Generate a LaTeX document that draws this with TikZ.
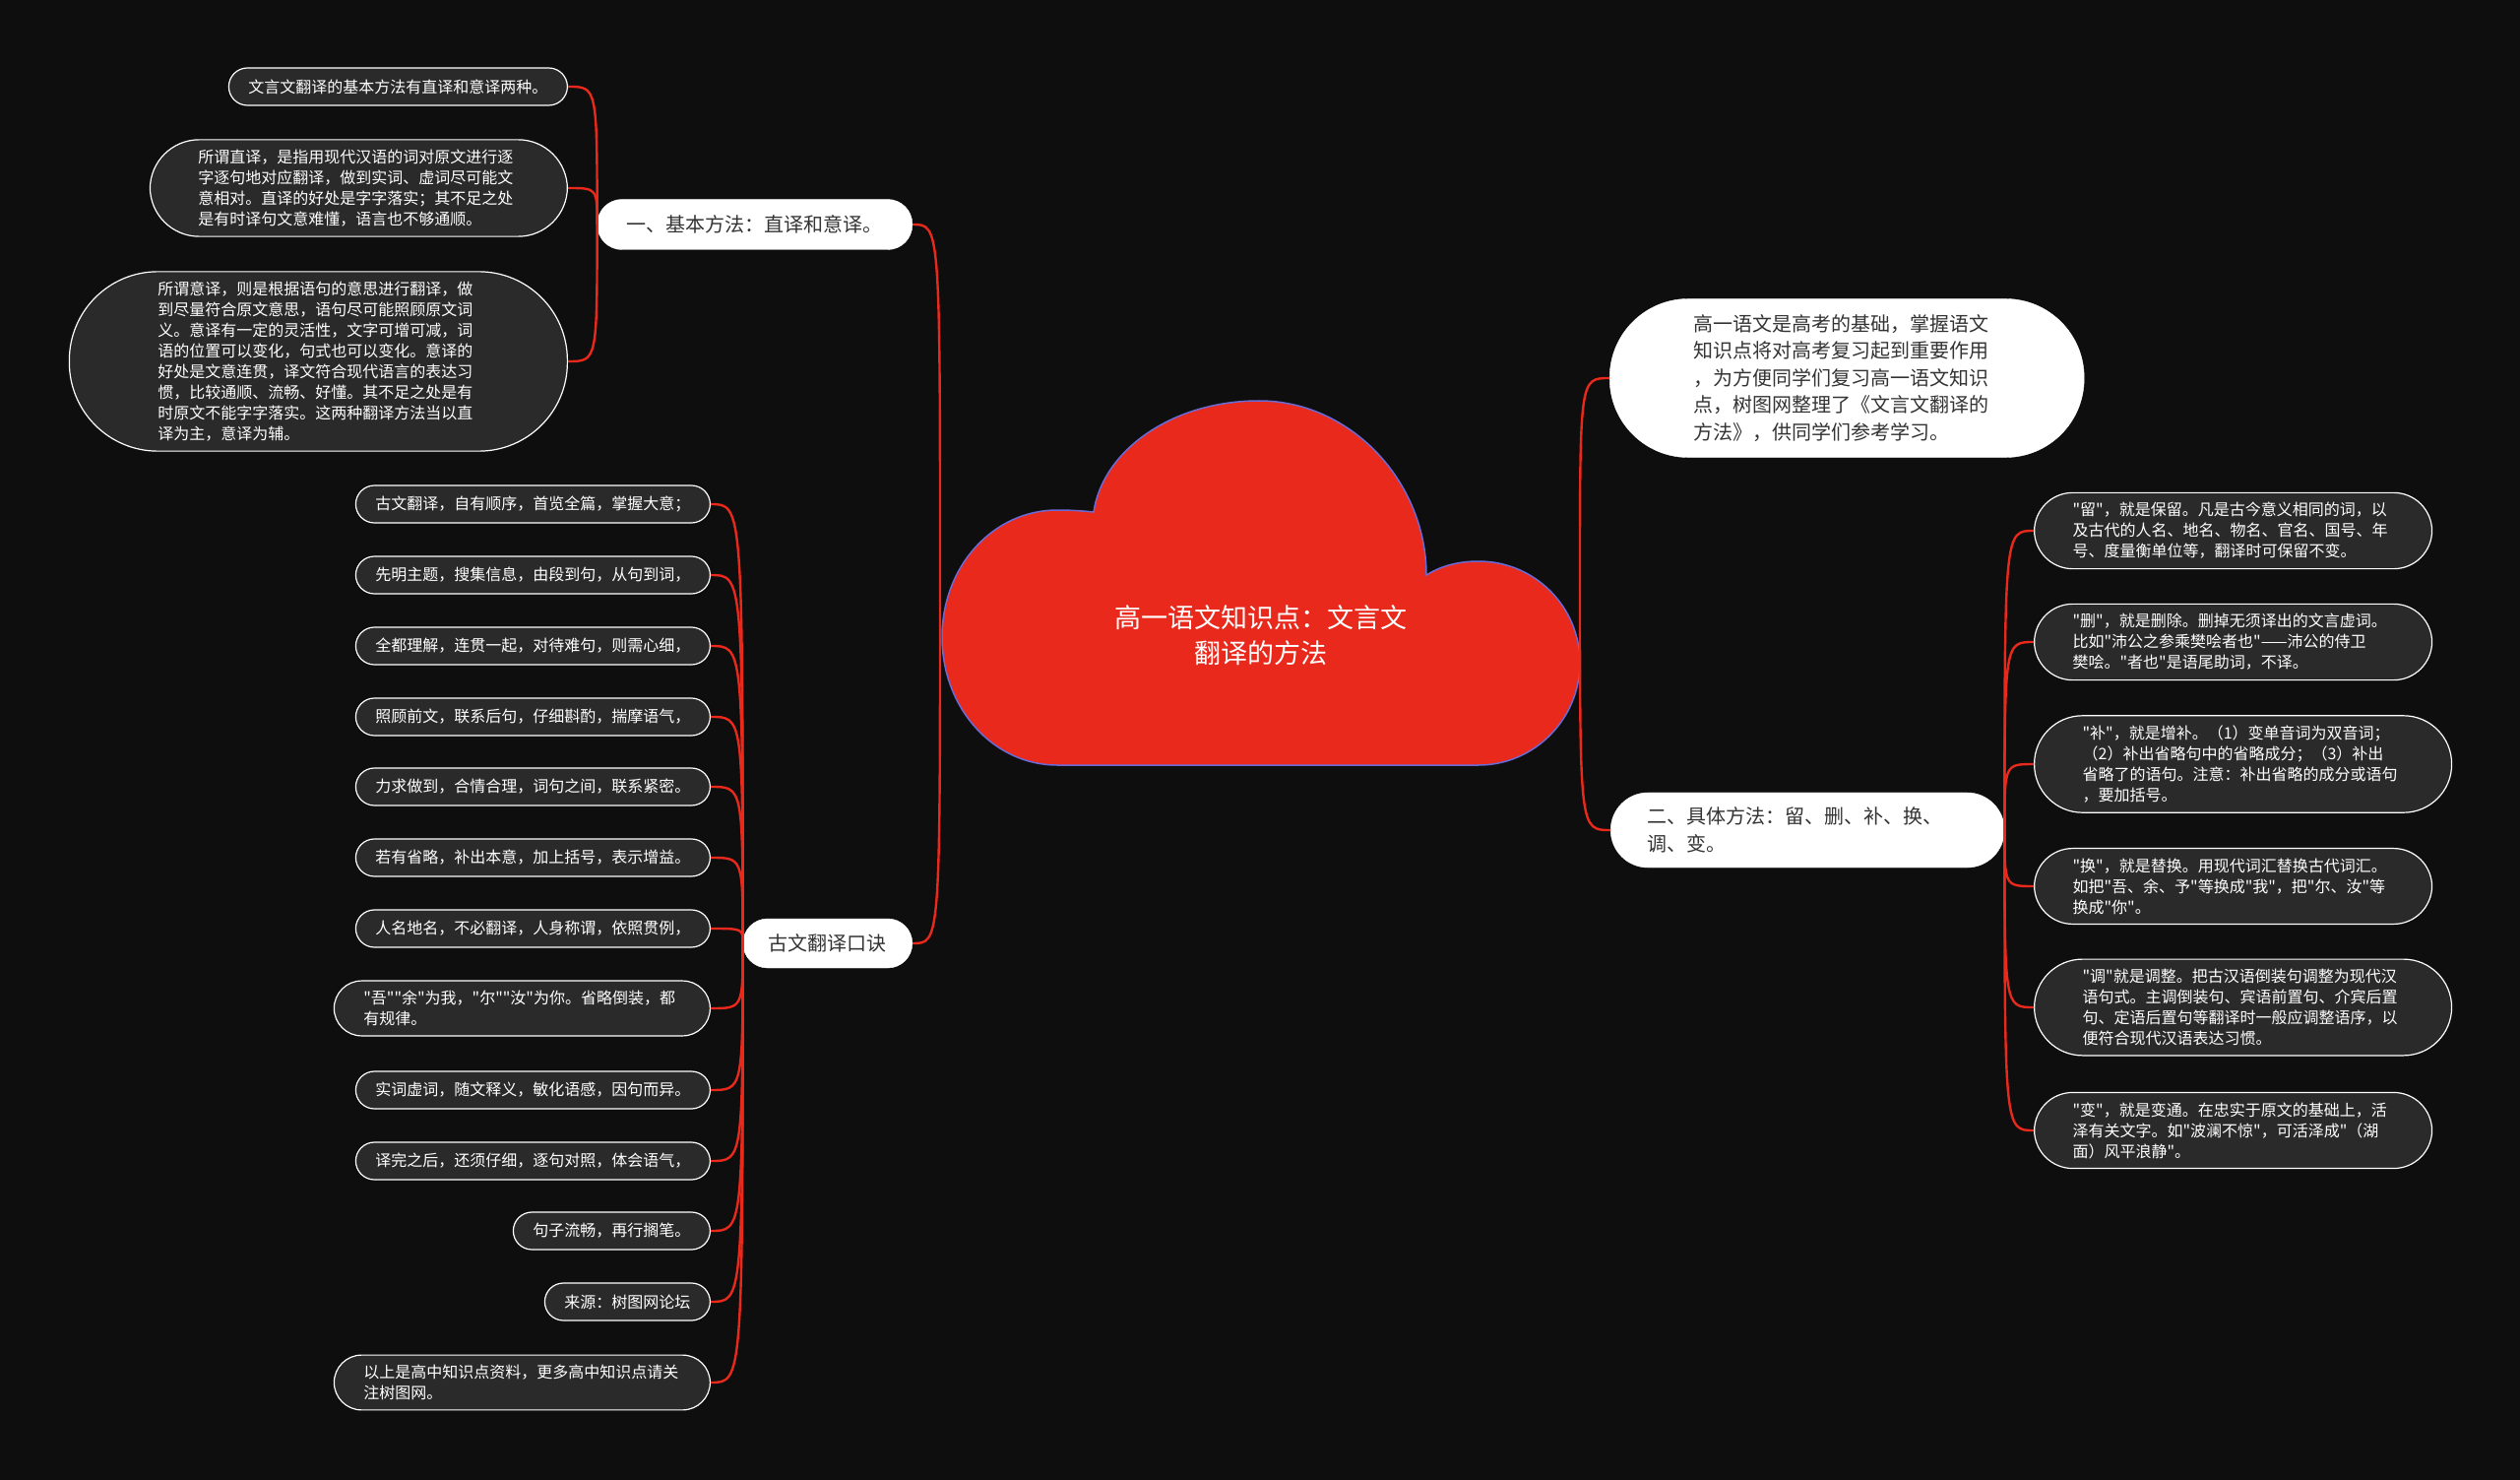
\documentclass[tikz,border=0pt]{standalone}
\usepackage{fontspec}
\setmainfont{Noto Sans CJK SC}[Ligatures=TeXOff]
\usepackage{xcolor}
\usepackage{tikz}
\definecolor{mCanvas}{HTML}{0E0E0E}
\definecolor{mRed}{HTML}{E8291C}
\definecolor{mEdge}{HTML}{6B6BD6}
\definecolor{mLeaf}{HTML}{2A2A2A}
\definecolor{mInk}{HTML}{333333}

\begin{document}
\begin{tikzpicture}[x=1pt, y=-1pt,
      rootnode/.style={text=white, align=center, font=\fontsize{27}{36}\selectfont},
      main/.style={fill=white, draw=white, text=mInk, rounded corners=25,
                   minimum height=51, inner xsep=30, font=\fontsize{20}{27.5}\selectfont},
      leaf/.style={fill=mLeaf, draw=white, line width=1.2, text=white, rounded corners=19,
                   minimum height=38, inner xsep=20, inner ysep=10,
                   font=\fontsize{16}{21}\selectfont},
      longleaf/.style={leaf, text width=326, align=left},
      link/.style={draw=mRed, line width=2.4}
    ]
    \useasboundingbox (0,0) rectangle (2560,1503);
    \fill[mCanvas] (0,0) rectangle (2560,1503);

    % cloud
    \filldraw[fill=mRed, draw=mEdge, line width=1.5]
      (1111,520) .. controls (1120,458) and (1190,407) .. (1279,407)
      .. controls (1373,407) and (1449,490) .. (1449,584)
      .. controls (1465,574) and (1483,570) .. (1502,570)
      .. controls (1559,570) and (1605,616) .. (1605,673)
      .. controls (1605,730) and (1559,777) .. (1502,777)
      -- (1074,777)
      .. controls (1009,777) and (957,719) .. (957,647)
      .. controls (957,575) and (1009,518) .. (1074,518)
      .. controls (1090,518) and (1101,519) .. (1111,520) -- cycle;
    \node[rootnode] (root) at (1281,645) {高一语文知识点：文言文\\翻译的方法};
    \coordinate (rootW) at (955,592);
    \coordinate (rootE) at (1605,592);

    \node[main, anchor=east] (m1) at (927,228) {一、基本方法：直译和意译。};
    \node[main, anchor=east, inner xsep=26, minimum height=50] (m2) at (927,958) {古文翻译口诀};
    \node[main, anchor=west, text width=312, inner xsep=85, inner ysep=16, rounded corners=80, align=left] (m3) at (1635,384)
      {高一语文是高考的基础，掌握语文\\知识点将对高考复习起到重要作用\\，为方便同学们复习高一语文知识\\点，树图网整理了《文言文翻译的\\方法》，供同学们参考学习。};
    \node[main, anchor=west, text width=326, inner xsep=37, inner ysep=15, rounded corners=38, align=left] (m4) at (1636,843)
      {二、具体方法：留、删、补、换、\\调、变。};

    \node[leaf, anchor=east] (a1) at (577,88) {文言文翻译的基本方法有直译和意译两种。};
    \node[longleaf, anchor=east, inner xsep=49, rounded corners=50] (a2) at (577,191)
      {所谓直译，是指用现代汉语的词对原文进行逐\\字逐句地对应翻译，做到实词、虚词尽可能文\\意相对。直译的好处是字字落实；其不足之处\\是有时译句文意难懂，语言也不够通顺。};
    \node[longleaf, anchor=east, inner xsep=90, rounded corners=90] (a3) at (577,367)
      {所谓意译，则是根据语句的意思进行翻译，做\\到尽量符合原文意思，语句尽可能照顾原文词\\义。意译有一定的灵活性，文字可增可减，词\\语的位置可以变化，句式也可以变化。意译的\\好处是文意连贯，译文符合现代语言的表达习\\惯，比较通顺、流畅、好懂。其不足之处是有\\时原文不能字字落实。这两种翻译方法当以直\\译为主，意译为辅。};

    \node[leaf, anchor=east] (b1) at (722,512) {古文翻译，自有顺序，首览全篇，掌握大意；};
    \node[leaf, anchor=east] (b2) at (722,584) {先明主题，搜集信息，由段到句，从句到词，};
    \node[leaf, anchor=east] (b3) at (722,656) {全都理解，连贯一起，对待难句，则需心细，};
    \node[leaf, anchor=east] (b4) at (722,728) {照顾前文，联系后句，仔细斟酌，揣摩语气，};
    \node[leaf, anchor=east] (b5) at (722,799) {力求做到，合情合理，词句之间，联系紧密。};
    \node[leaf, anchor=east] (b6) at (722,871) {若有省略，补出本意，加上括号，表示增益。};
    \node[leaf, anchor=east] (b7) at (722,943) {人名地名，不必翻译，人身称谓，依照贯例，};
    \node[longleaf, anchor=east, text width=322, inner xsep=30, rounded corners=28] (b8) at (722,1024)
      {"吾""余"为我，"尔""汝"为你。省略倒装，都\\有规律。};
    \node[leaf, anchor=east] (b9) at (722,1107) {实词虚词，随文释义，敏化语感，因句而异。};
    \node[leaf, anchor=east] (b10) at (722,1179) {译完之后，还须仔细，逐句对照，体会语气，};
    \node[leaf, anchor=east] (b11) at (722,1250) {句子流畅，再行搁笔。};
    \node[leaf, anchor=east] (b12) at (722,1322) {来源：树图网论坛};
    \node[longleaf, anchor=east, text width=322, inner xsep=30, rounded corners=28] (b13) at (722,1404)
      {以上是高中知识点资料，更多高中知识点请关\\注树图网。};

    \node[longleaf, anchor=west, inner xsep=39, rounded corners=39] (c1) at (2066,539)
      {"留"，就是保留。凡是古今意义相同的词，以\\及古代的人名、地名、物名、官名、国号、年\\号、度量衡单位等，翻译时可保留不变。};
    \node[longleaf, anchor=west, inner xsep=39, rounded corners=39] (c2) at (2066,652)
      {"删"，就是删除。删掉无须译出的文言虚词。\\比如"沛公之参乘樊哙者也"——沛公的侍卫\\樊哙。"者也"是语尾助词，不译。};
    \node[longleaf, anchor=west, inner xsep=49, rounded corners=49] (c3) at (2066,776)
      {"补"，就是增补。（1）变单音词为双音词；\\（2）补出省略句中的省略成分；（3）补出\\省略了的语句。注意：补出省略的成分或语句\\，要加括号。};
    \node[longleaf, anchor=west, inner xsep=39, rounded corners=39] (c4) at (2066,900)
      {"换"，就是替换。用现代词汇替换古代词汇。\\如把"吾、余、予"等换成"我"，把"尔、汝"等\\换成"你"。};
    \node[longleaf, anchor=west, inner xsep=49, rounded corners=49] (c5) at (2066,1023)
      {"调"就是调整。把古汉语倒装句调整为现代汉\\语句式。主调倒装句、宾语前置句、介宾后置\\句、定语后置句等翻译时一般应调整语序，以\\便符合现代汉语表达习惯。};
    \node[longleaf, anchor=west, inner xsep=39, rounded corners=39] (c6) at (2066,1148)
      {"变"，就是变通。在忠实于原文的基础上，活\\泽有关文字。如"波澜不惊"，可活泽成"（湖\\面）风平浪静"。};

    \draw[link] (rootW) .. controls (rootW |- m1.east) .. (m1.east);
    \draw[link] (rootW) .. controls (rootW |- m2.east) .. (m2.east);
    \draw[link] (rootE) .. controls (rootE |- m3.west) .. (m3.west);
    \draw[link] (rootE) .. controls (rootE |- m4.west) .. (m4.west);

    \draw[link] (m1.west) .. controls (m1.west |- a1.east) .. (a1.east);
    \draw[link] (m1.west) .. controls (m1.west |- a2.east) .. (a2.east);
    \draw[link] (m1.west) .. controls (m1.west |- a3.east) .. (a3.east);

    \draw[link] (m2.west) .. controls (m2.west |- b1.east) .. (b1.east);
    \draw[link] (m2.west) .. controls (m2.west |- b2.east) .. (b2.east);
    \draw[link] (m2.west) .. controls (m2.west |- b3.east) .. (b3.east);
    \draw[link] (m2.west) .. controls (m2.west |- b4.east) .. (b4.east);
    \draw[link] (m2.west) .. controls (m2.west |- b5.east) .. (b5.east);
    \draw[link] (m2.west) .. controls (m2.west |- b6.east) .. (b6.east);
    \draw[link] (m2.west) .. controls (m2.west |- b7.east) .. (b7.east);
    \draw[link] (m2.west) .. controls (m2.west |- b8.east) .. (b8.east);
    \draw[link] (m2.west) .. controls (m2.west |- b9.east) .. (b9.east);
    \draw[link] (m2.west) .. controls (m2.west |- b10.east) .. (b10.east);
    \draw[link] (m2.west) .. controls (m2.west |- b11.east) .. (b11.east);
    \draw[link] (m2.west) .. controls (m2.west |- b12.east) .. (b12.east);
    \draw[link] (m2.west) .. controls (m2.west |- b13.east) .. (b13.east);

    \draw[link] (m4.east) .. controls (m4.east |- c1.west) .. (c1.west);
    \draw[link] (m4.east) .. controls (m4.east |- c2.west) .. (c2.west);
    \draw[link] (m4.east) .. controls (m4.east |- c3.west) .. (c3.west);
    \draw[link] (m4.east) .. controls (m4.east |- c4.west) .. (c4.west);
    \draw[link] (m4.east) .. controls (m4.east |- c5.west) .. (c5.west);
    \draw[link] (m4.east) .. controls (m4.east |- c6.west) .. (c6.west);
  \end{tikzpicture}
\end{document}
